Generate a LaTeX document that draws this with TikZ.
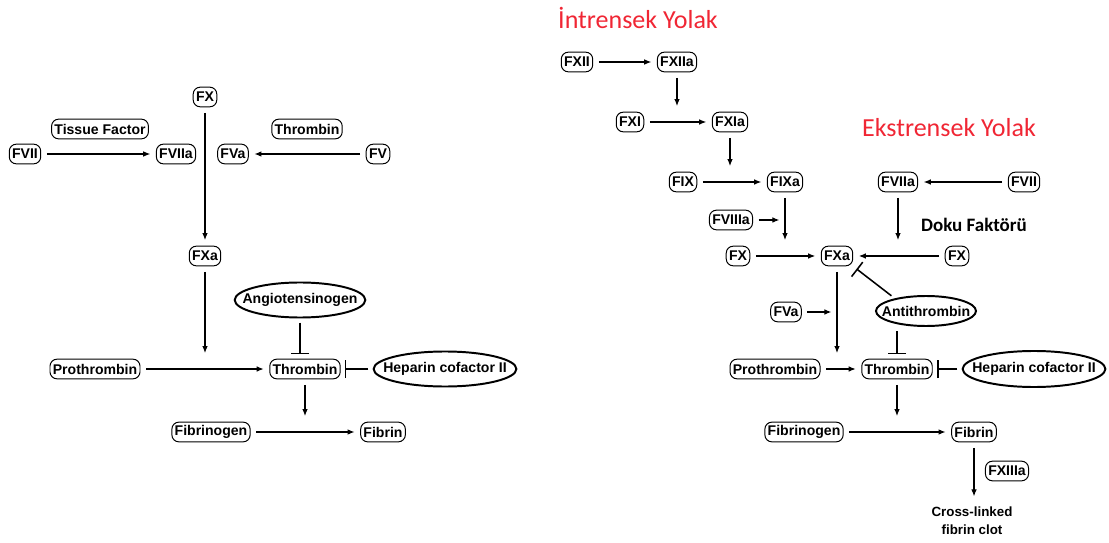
\documentclass[tikz,border=0pt]{standalone}
\usepackage{fontspec}
\setmainfont{Liberation Sans}
\newfontfamily\calibri{Carlito}
\usetikzlibrary{shapes.geometric,arrows.meta}
\definecolor{pathred}{RGB}{240,38,52}

\tikzset{
    factor/.style={draw, line width=0.7pt, rounded corners=5pt, inner sep=2pt,
        minimum height=14pt, font=\bfseries\fontsize{10}{12}\selectfont},
    inhibitor/.style={draw, ellipse, line width=1.4pt, inner xsep=-8pt, inner ysep=0pt,
        font=\bfseries\fontsize{10}{12}\selectfont},
    act/.style={-{Latex[length=5pt,width=4pt]}, line width=0.8pt, shorten <=4pt, shorten >=4pt},
    block/.style={-{Bar[width=13pt]}, line width=1.1pt, shorten <=3pt, shorten >=3pt},
    pathtitle/.style={text=pathred, font=\calibri\fontsize{18.5}{20}\selectfont}
}

\begin{document}
\begin{tikzpicture}[x=0.025cm, y=-0.025cm]
    \useasboundingbox (0,0) rectangle (1109,543);

    % Left scheme: factors
    \foreach \n/\x/\y/\t in {fxl/205/97/FX, tf/100/129/Tissue Factor, thtop/307/129/Thrombin,
        fvii/25/154/FVII, fviia/176/154/FVIIa, fva/233/154/FVa, fv/378/154/FV,
        fxal/205/256/FXa, prol/95/369/Prothrombin, thl/305/369/Thrombin,
        fbgl/211/432/Fibrinogen, fbl/383/432/Fibrin} {
        \node[factor] (\n) at (\x,\y) {\t};
    }
    \node[inhibitor, minimum width=3.25cm, minimum height=0.875cm] (angl) at (300,300) {Angiotensinogen};
    \node[inhibitor, minimum width=3.5cm, minimum height=0.875cm] (hepl) at (445,369) {Heparin cofactor II};

    % Left scheme: connections
    \draw[act] (fvii) -- (fviia);
    \draw[act] (fv) -- (fva);
    \draw[act] (fxl) -- (fxal);
    \draw[act] (fxal.south) -- (fxal.south |- prol.north);
    \draw[act] (prol) -- (thl);
    \draw[block] (angl.south) -- (angl.south |- thl.north);
    \draw[block] (hepl) -- (thl);
    \draw[act] (thl.south) -- (thl.south |- fbl.north);
    \draw[act] (fbgl) -- (fbl);

    % Right scheme: titles
    \node[pathtitle] (intr) at (638,18) {İntrensek Yolak};
    \node[pathtitle] (ekst) at (949,128) {Ekstrensek Yolak};
    \node[font=\calibri\bfseries\fontsize{13.5}{15}\selectfont] (doku) at (974,225) {Doku Faktörü};

    % Right scheme: factors
    \foreach \n/\x/\y/\t in {fxii/577/62/FXII, fxiia/677/62/FXIIa, fxi/630/122/FXI, fxia/730/122/FXIa,
        fix/683/182/FIX, fixa/785/182/FIXa, fviiar/898/182/FVIIa, fviir/1024/182/FVII,
        fviiia/731/220/FVIIIa, fxr/738/256/FX, fxar/837/256/FXa, fxr2/957/256/FX,
        fvar/786/312/FVa, pror/775/369/Prothrombin, thr/897/369/Thrombin,
        fbgr/804/432/Fibrinogen, fbr/974/432/Fibrin, fxiiia/1007/471/FXIIIa} {
        \node[factor] (\n) at (\x,\y) {\t};
    }
    \node[inhibitor, minimum width=2.5cm, minimum height=0.75cm] (atr) at (926,311) {Antithrombin};
    \node[inhibitor, minimum width=3.5cm, minimum height=0.9cm] (hepr) at (1034,369) {Heparin cofactor II};
    \node[font=\bfseries\fontsize{9.5}{13}\selectfont, align=center] (clot) at (972,521) {Cross-linked\\fibrin clot};

    % Right scheme: connections
    \coordinate (c8) at (fixa.south |- fviiia);
    \coordinate (c5) at (fxar.south |- fvar);
    \draw[act] (fxii) -- (fxiia);
    \draw[act] (fxiia.south) -- (fxiia.south |- fxi.north);
    \draw[act] (fxi) -- (fxia);
    \draw[act] (fxia.south) -- (fxia.south |- fix.north);
    \draw[act] (fix) -- (fixa);
    \draw[act] (fviir) -- (fviiar);
    \draw[act] (fviiia) -- (c8);
    \draw[act] (fixa.south) -- (fixa.south |- fxr.north);
    \draw[act] (fviiar.south) -- (fviiar.south |- fxr2.north);
    \draw[act] (fxr) -- (fxar);
    \draw[act] (fxr2) -- (fxar);
    \draw[block] (atr.158) -- (fxar.south east);
    \draw[act] (fvar) -- (c5);
    \draw[act] (fxar.south) -- (fxar.south |- pror.north);
    \draw[block] (atr.south -| thr.north) -- (thr.north);
    \draw[act] (pror) -- (thr);
    \draw[block] (hepr) -- (thr);
    \draw[act] (thr.south) -- (thr.south |- fbr.north);
    \draw[act] (fbgr) -- (fbr);
    \draw[act] (fbr.south) -- (fbr.south |- clot.north);
\end{tikzpicture}
\end{document}
